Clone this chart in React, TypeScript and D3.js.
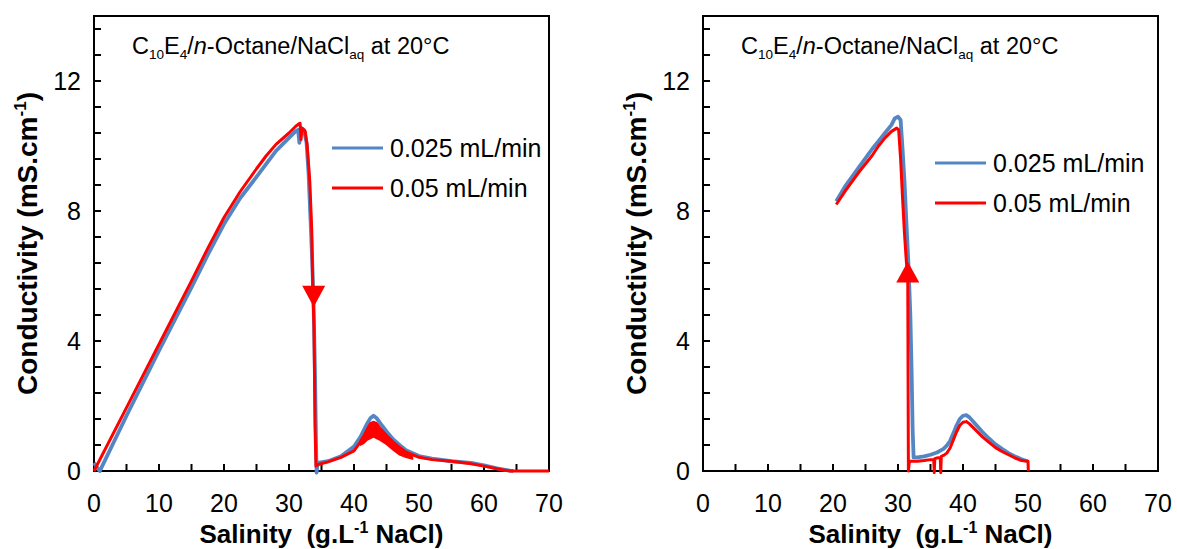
import React from "react";
import * as d3 from "d3";

// ---------- DATA ----------
const xTicksLabeled = [0, 10, 20, 30, 40, 50, 60, 70];
const xTicksMinor = [0, 5, 10, 15, 20, 25, 30, 35, 40, 45, 50, 55, 60, 65, 70];
const yTicksLabeled = [0, 4, 8, 12];
const yTicksMinor = [0, 0.8, 1.6, 2.4, 3.2, 4, 4.8, 5.6, 6.4, 7.2, 8, 8.8, 9.6, 10.4, 11.2, 12, 12.8, 13.6];
const seriesNames = ["0.025 mL/min", "0.05 mL/min"];

// Left panel, 0.025 mL/min (blue)
const leftBlueX = [0, 0.5, 0.9, 1.5, 5, 10, 15, 17.5, 20, 22.5, 25, 26.5, 28, 30, 31, 31.4, 31.6, 31.9, 32.3, 32.7, 33.0, 33.3, 33.6, 33.8, 34.0, 34.15, 34.25, 34.4, 36, 38, 40, 41, 42, 42.5, 43, 43.5, 44, 45, 46, 47, 48, 50, 52, 55, 58, 60, 62, 64, 64.5];
const leftBlueY = [0.25, 0.1, 0.0, 0.25, 1.7, 3.7, 5.65, 6.65, 7.6, 8.4, 9.05, 9.45, 9.85, 10.25, 10.45, 10.5, 10.1, 10.55, 10.5, 10.1, 9.2, 7.8, 6.3, 5.0, 3.0, 1.0, -0.05, 0.25, 0.3, 0.45, 0.75, 1.05, 1.45, 1.62, 1.7, 1.62, 1.48, 1.22, 0.98, 0.8, 0.64, 0.46, 0.38, 0.3, 0.25, 0.17, 0.08, 0.01, 0];

// Left panel, 0.05 mL/min (red)
const leftRedX = [0, 5, 10, 15, 17.5, 20, 22.5, 25, 26.5, 28, 30, 31, 31.5, 31.7, 31.85, 32.0, 32.5, 32.8, 33.2, 33.5, 33.65, 33.85, 34.0, 34.15, 34.5, 36, 38, 40, 41, 42, 42.5, 43, 43.5, 44, 45, 46, 47, 48, 50, 52, 55, 58, 60, 62, 63, 64, 70];
const leftRedY = [0, 1.95, 3.9, 5.85, 6.85, 7.8, 8.6, 9.3, 9.7, 10.05, 10.4, 10.6, 10.68, 10.7, 10.2, 10.55, 10.45, 10.0, 8.9, 7.4, 5.7, 4.4, 1.4, 0.15, 0.2, 0.28, 0.42, 0.62, 0.9, 1.25, 1.42, 1.48, 1.42, 1.3, 1.08, 0.88, 0.72, 0.58, 0.42, 0.35, 0.3, 0.22, 0.15, 0.07, 0.03, 0, 0];

// Left panel, red noise band around the bump
const leftNoiseX = [41, 41.5, 42, 42.5, 43, 43.5, 44, 45, 46, 47, 48, 49];
const leftNoiseHi = [0.95, 1.1, 1.32, 1.48, 1.52, 1.48, 1.35, 1.12, 0.92, 0.75, 0.6, 0.5];
const leftNoiseLo = [0.8, 0.85, 0.95, 1.0, 1.05, 1.0, 0.95, 0.82, 0.65, 0.5, 0.42, 0.37];

// Right panel, 0.025 mL/min (blue)
const rightBlueX = [20.5, 22, 24, 26, 27, 28, 29, 29.5, 30.0, 30.4, 30.7, 31.0, 31.3, 31.6, 31.9, 32.1, 32.25, 32.4, 33, 34, 35, 36, 37, 37.5, 38, 38.5, 39, 39.5, 40, 40.5, 41, 42, 43, 44, 45, 46, 47, 48, 49, 49.9];
const rightBlueY = [8.3, 8.8, 9.35, 9.9, 10.15, 10.4, 10.65, 10.85, 10.9, 10.8, 9.9, 8.9, 7.6, 6.4, 4.8, 3.0, 1.3, 0.42, 0.42, 0.45, 0.5, 0.57, 0.68, 0.78, 0.92, 1.15, 1.4, 1.6, 1.7, 1.72, 1.65, 1.42, 1.2, 1.0, 0.82, 0.68, 0.55, 0.45, 0.36, 0.3];

// Right panel, 0.05 mL/min (red)
const rightRedX = [20.5, 22, 24, 26, 27, 28, 29, 29.8, 30.1, 30.4, 30.7, 31.0, 31.3, 31.5, 31.6, 31.75, 33, 34, 35, 35.5, 35.58, 35.66, 36, 36.5, 36.58, 36.66, 37, 37.5, 38, 38.5, 39, 39.5, 40, 40.5, 41, 42, 43, 44, 45, 46, 47, 48, 49, 50, 50.05];
const rightRedY = [8.2, 8.65, 9.2, 9.7, 10.0, 10.25, 10.45, 10.55, 10.5, 9.6, 8.4, 7.3, 6.4, 6.0, 0, 0.3, 0.3, 0.32, 0.35, 0.35, -0.05, 0.38, 0.4, 0.42, -0.05, 0.45, 0.48, 0.55, 0.7, 0.95, 1.2, 1.4, 1.5, 1.52, 1.45, 1.25, 1.05, 0.88, 0.72, 0.6, 0.5, 0.4, 0.32, 0.3, 0];

// Direction arrows (x, base y, apex y)
const leftArrow = [33.8, 5.7, 5.05];
const rightArrow = [31.5, 5.8, 6.45];

// ---------- LAYOUT ----------
const W = 1177;
const H = 549;
const PW = 455;
const TOP = 16;
const BOTTOM = 471;
const BLUE = "#5586C4";
const RED = "#FF0000";
const FONT = "'Liberation Sans', Arial, Helvetica, sans-serif";

type Panel = {
  left: number;
  blueX: number[];
  blueY: number[];
  redX: number[];
  redY: number[];
  noise?: { x: number[]; hi: number[]; lo: number[] };
  arrow: number[];
  legendX: number;
  legendY: number;
};

const panels: Panel[] = [
  {
    left: 94,
    blueX: leftBlueX,
    blueY: leftBlueY,
    redX: leftRedX,
    redY: leftRedY,
    noise: { x: leftNoiseX, hi: leftNoiseHi, lo: leftNoiseLo },
    arrow: leftArrow,
    legendX: 332,
    legendY: 148,
  },
  {
    left: 703,
    blueX: rightBlueX,
    blueY: rightBlueY,
    redX: rightRedX,
    redY: rightRedY,
    arrow: rightArrow,
    legendX: 935,
    legendY: 163,
  },
];

function PanelView({ p }: { p: Panel }) {
  const x = d3.scaleLinear().domain([0, 70]).range([p.left, p.left + PW]);
  const y = d3.scaleLinear().domain([0, 14]).range([BOTTOM, TOP]);
  const line = d3
    .line<[number, number]>()
    .x((d) => x(d[0]))
    .y((d) => y(d[1]));
  const bluePts = p.blueX.map((v, i) => [v, p.blueY[i]] as [number, number]);
  const redPts = p.redX.map((v, i) => [v, p.redY[i]] as [number, number]);
  let noisePath: string | null = null;
  if (p.noise) {
    const n = p.noise;
    const area = d3
      .area<number>()
      .x((_, i) => x(n.x[i]))
      .y0((_, i) => y(n.lo[i]))
      .y1((_, i) => y(n.hi[i]));
    noisePath = area(n.x.map((_, i) => i));
  }
  const [ax, ab, aa] = p.arrow;
  const arrowPath = `M${x(ax) - 11.5},${y(ab)}L${x(ax) + 11.5},${y(ab)}L${x(ax)},${y(aa)}Z`;

  const legendItems = [
    { name: seriesNames[0], color: BLUE, w: 3 },
    { name: seriesNames[1], color: RED, w: 3 },
  ];
  const cx = p.left + PW / 2;

  return (
    <g>
      {/* frame */}
      <rect x={p.left} y={TOP} width={PW} height={BOTTOM - TOP} fill="none" stroke="#000" strokeWidth={2} />
      {/* ticks */}
      {xTicksMinor.map((t) => (
        <line key={"xt" + t} x1={x(t)} x2={x(t)} y1={BOTTOM} y2={BOTTOM - 7} stroke="#000" strokeWidth={2} />
      ))}
      {yTicksMinor.map((t) => (
        <line key={"yt" + t} x1={p.left} x2={p.left + 7} y1={y(t)} y2={y(t)} stroke="#000" strokeWidth={2} />
      ))}
      {/* tick labels */}
      {xTicksLabeled.map((t) => (
        <text key={"xl" + t} x={x(t)} y={512} textAnchor="middle" fontSize={25} fontFamily={FONT} fill="#000">
          {t}
        </text>
      ))}
      {yTicksLabeled.map((t) => (
        <text key={"yl" + t} x={p.left - 13} y={y(t) + 9} textAnchor="end" fontSize={25} fontFamily={FONT} fill="#000">
          {t}
        </text>
      ))}
      {/* axis titles */}
      <text x={cx} y={543} textAnchor="middle" fontSize={26} fontWeight="bold" fontFamily={FONT} fill="#000" style={{ whiteSpace: "pre" }}>
        {"Salinity  (g.L"}
        <tspan fontSize={16} dy={-10}>-1</tspan>
        <tspan dy={10}>{" NaCl)"}</tspan>
      </text>
      <text
        transform={`translate(${p.left - 57},${(TOP + BOTTOM) / 2}) rotate(-90)`}
        textAnchor="middle"
        fontSize={28}
        fontWeight="bold"
        fontFamily={FONT}
        fill="#000"
      >
        {"Conductivity (mS.cm"}
        <tspan fontSize={17} dy={-11}>-1</tspan>
        <tspan dy={11}>)</tspan>
      </text>
      {/* title */}
      <text x={p.left + 38} y={54} fontSize={23.5} fontFamily={FONT} fill="#000">
        {"C"}
        <tspan fontSize={13.5} dy={5}>10</tspan>
        <tspan dy={-5}>E</tspan>
        <tspan fontSize={13.5} dy={5}>4</tspan>
        <tspan dy={-5}>/</tspan>
        <tspan fontStyle="italic">n</tspan>
        <tspan>-Octane/NaCl</tspan>
        <tspan fontSize={13.5} dy={5}>aq</tspan>
        <tspan dy={-5}>{" at 20°C"}</tspan>
      </text>
      {/* data */}
      <path d={line(bluePts) || ""} fill="none" stroke={BLUE} strokeWidth={3.8} strokeLinejoin="round" />
      <path d={line(redPts) || ""} fill="none" stroke={RED} strokeWidth={3} strokeLinejoin="round" />
      {noisePath && <path d={noisePath} fill={RED} stroke={RED} strokeWidth={1.5} />}
      <path d={arrowPath} fill={RED} />
      {/* legend */}
      {legendItems.map((it, i) => (
        <g key={it.name}>
          <line
            x1={p.legendX}
            x2={p.legendX + 51}
            y1={p.legendY + i * 40}
            y2={p.legendY + i * 40}
            stroke={it.color}
            strokeWidth={it.w}
          />
          <text x={p.legendX + 58} y={p.legendY + i * 40 + 9} fontSize={25} fontFamily={FONT} fill="#000">
            {it.name}
          </text>
        </g>
      ))}
    </g>
  );
}

export default function App() {
  return (
    <svg
      width={W}
      height={H}
      viewBox={`0 0 ${W} ${H}`}
      style={{ position: "absolute", left: 0, top: 0, background: "#fff" }}
    >
      <rect x={0} y={0} width={W} height={H} fill="#fff" />
      {panels.map((p, i) => (
        <PanelView key={i} p={p} />
      ))}
    </svg>
  );
}
